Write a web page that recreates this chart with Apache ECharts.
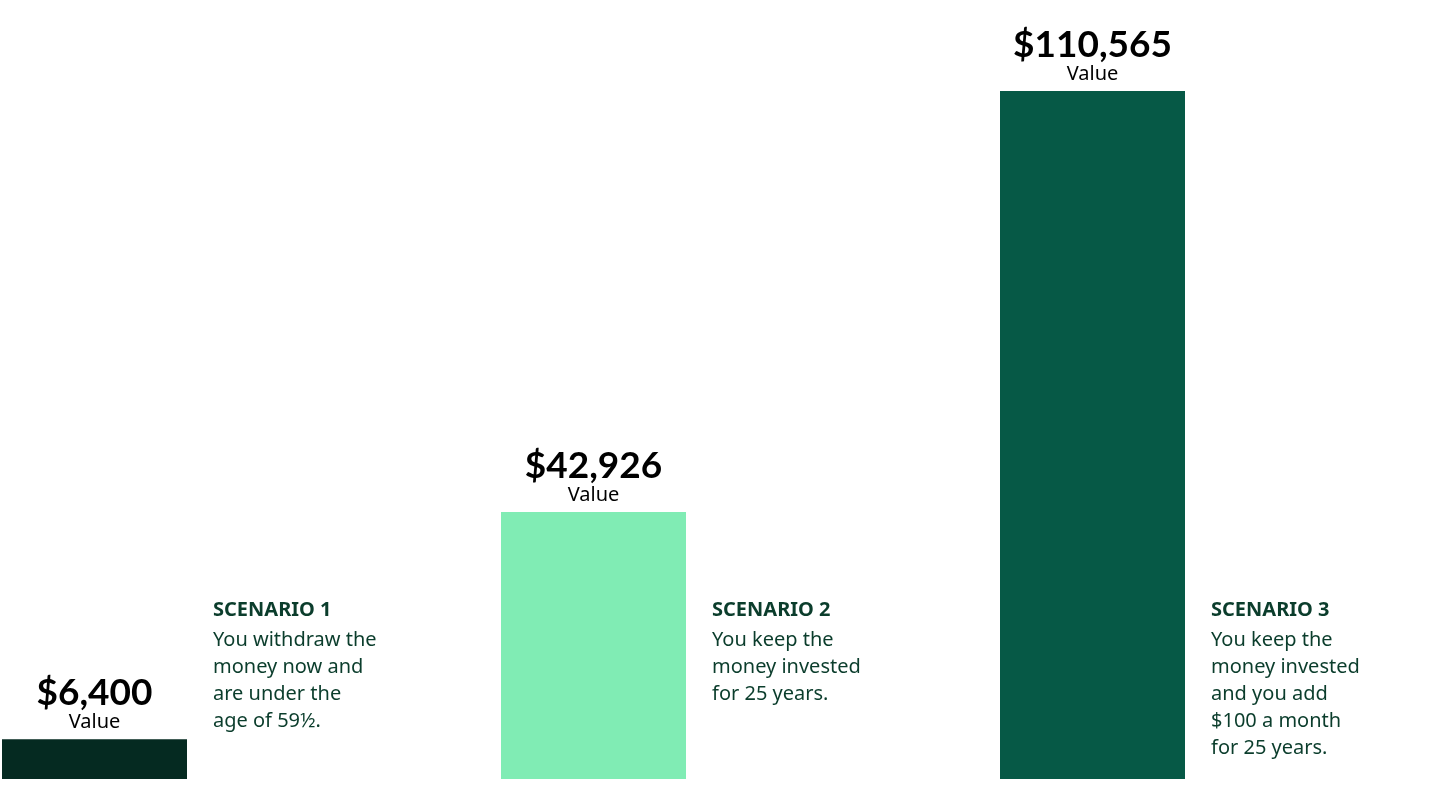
<!DOCTYPE html>
<html><head><meta charset="utf-8">
<script src="https://cdn.jsdelivr.net/npm/echarts@6/dist/echarts.min.js"></script>
<style>html,body{margin:0;padding:0;background:#fff}#c{width:1440px;height:810px}</style>
</head><body><div id="c"></div>
<script>
const categories = ['Scenario 1', 'Scenario 2', 'Scenario 3'];
const values = [6400, 42926, 110565];
const valueLabels = ['$6,400', '$42,926', '$110,565'];
const titles = ['SCENARIO 1', 'SCENARIO 2', 'SCENARIO 3'];
const descriptions = [
  'You withdraw the\nmoney now and\nare under the\nage of 59½.',
  'You keep the\nmoney invested\nfor 25 years.',
  'You keep the\nmoney invested\nand you add\n$100 a month\nfor 25 years.'
];
const colors = ['#052a21', '#80ecb4', '#065946'];
const FONT = 'Lato, "Noto Sans", sans-serif';
const TFONT = '"Noto Sans", sans-serif';

const chart = echarts.init(document.getElementById('c'));
chart.setOption({
  animation: false,
  grid: { left: 94.5, right: 347.5, top: 91, bottom: 31, containLabel: false },
  xAxis: { type: 'category', data: categories, show: false, boundaryGap: false },
  yAxis: { type: 'value', min: 0, max: 110565, show: false },
  series: [{
    type: 'bar', barWidth: 185, clip: false,
    data: values.map((v, i) => ({ value: v, itemStyle: { color: colors[i] } })),
    label: {
      show: true, position: 'top', distance: 6,
      formatter: p => '{v|' + valueLabels[p.dataIndex] + '}\n{s|Value}',
      rich: {
        v: { fontFamily: FONT, fontWeight: 'bold', fontSize: 37, color: '#000', lineHeight: 36, align: 'center' },
        s: { fontFamily: TFONT, fontSize: 20, color: '#000', lineHeight: 22, align: 'center' }
      }
    }
  }]
});
const graphics = [];
categories.forEach((c, i) => {
  const px = chart.convertToPixel({ xAxisIndex: 0 }, c);
  const x = px + 92.5 + 26;
  graphics.push({ type: 'text', left: x, top: 600, style: { text: titles[i], font: 'bold 20px ' + TFONT, fill: '#0b3d2c' } });
  graphics.push({ type: 'text', left: x, top: 627, style: { text: descriptions[i], font: '20px ' + TFONT, fill: '#0b3d2c', lineHeight: 27 } });
});
chart.setOption({ graphic: graphics });
</script></body></html>
